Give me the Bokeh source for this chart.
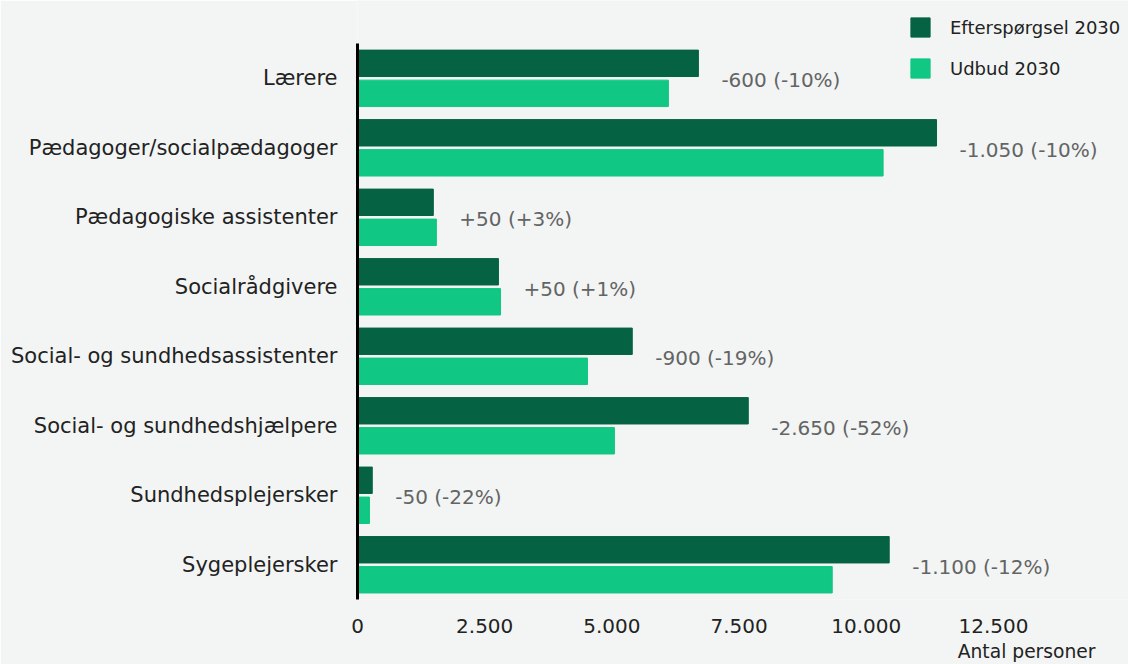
from bokeh.plotting import figure
from bokeh.models import ColumnDataSource, FixedTicker, Legend, LegendItem, CustomJSTickFormatter, Range1d
from bokeh.transform import dodge
from bokeh.core.properties import value
from bokeh.embed import file_html
from bokeh.resources import INLINE

categories = ["Lærere", "Pædagoger/socialpædagoger", "Pædagogiske assistenter", "Socialrådgivere",
              "Social- og sundhedsassistenter", "Social- og sundhedshjælpere", "Sundhedsplejersker",
              "Sygeplejersker"]
demand_2030 = [6700, 11380, 1490, 2770, 5400, 7680, 290, 10450]
supply_2030 = [6110, 10330, 1550, 2810, 4520, 5050, 235, 9330]
gap_labels = ["-600 (-10%)", "-1.050 (-10%)", "+50 (+3%)", "+50 (+1%)", "-900 (-19%)",
              "-2.650 (-52%)", "-50 (-22%)", "-1.100 (-12%)"]
x_ticks = [0, 2500, 5000, 7500, 10000, 12500]

BG = "#f2f5f4"
DARK = "#056343"
LIGHT = "#10c783"
FONT = "DejaVu Sans"

n = len(categories)
ypos = [n - 1 - i for i in range(n)]

src = ColumnDataSource(dict(
    cat=categories, ypos=ypos, demand=demand_2030, supply=supply_2030, lab=gap_labels,
    lx=[max(a, b) for a, b in zip(demand_2030, supply_2030)],
))

p = figure(width=1128, height=664, output_backend="svg", toolbar_location=None,
           x_range=Range1d(0, 15153), y_range=Range1d(-0.5, n + 0.12),
           min_border_left=357, min_border_right=0, min_border_top=0, min_border_bottom=64,
           background_fill_color=BG, border_fill_color=BG, outline_line_color=None,
           title="Antal personer", title_location="below")

r1 = p.hbar(y=dodge("ypos", 0.216), right="demand", left=0, height=0.38,
            source=src, color=DARK)
r2 = p.hbar(y=dodge("ypos", -0.216), right="supply", left=0, height=0.38,
            source=src, color=LIGHT)

p.text(x="lx", y="ypos", text="lab", source=src, x_offset=23, y_offset=2, text_baseline="middle",
       text_align="left", text_font=value(FONT), text_font_size="20px", text_color="#646464")

p.xgrid.visible = False
p.ygrid.visible = False

xa = p.xaxis[0]
xa.ticker = FixedTicker(ticks=x_ticks)
xa.formatter = CustomJSTickFormatter(code="return tick.toString().replace(/\\B(?=(\\d{3})+(?!\\d))/g, '.');")
xa.axis_line_color = None
xa.major_tick_line_color = None
xa.minor_tick_line_color = None
xa.major_label_standoff = 13
xa.major_label_text_font = FONT
xa.major_label_text_font_size = "20px"
xa.major_label_text_color = "#222222"

ya = p.yaxis[0]
ya.ticker = FixedTicker(ticks=ypos)
ya.major_label_overrides = {y: c for y, c in zip(ypos, categories)}
ya.bounds = (-0.5, n - 0.5)
ya.axis_line_color = "#000000"
ya.axis_line_width = 3
ya.major_tick_line_color = None
ya.minor_tick_line_color = None
ya.major_label_standoff = 14
ya.major_label_text_font = FONT
ya.major_label_text_font_size = "21px"
ya.major_label_text_color = "#222222"

p.title.align = "right"
p.title.offset = 33
p.title.standoff = 6
p.title.text_font = FONT
p.title.text_font_size = "18.7px"
p.title.text_font_style = "normal"
p.title.text_color = "#222222"

legend = Legend(items=[LegendItem(label="Efterspørgsel 2030", renderers=[r1]),
                       LegendItem(label="Udbud 2030", renderers=[r2])],
                location=(551, 519), orientation="vertical",
                glyph_width=24, glyph_height=24, label_height=24, spacing=17,
                label_standoff=18, padding=0, margin=0,
                label_text_font=FONT, label_text_font_size="18px", label_text_color="#222222",
                background_fill_alpha=0, border_line_color=None)
p.add_layout(legend, "center")

open("out.html", "w").write(file_html(p, INLINE))
